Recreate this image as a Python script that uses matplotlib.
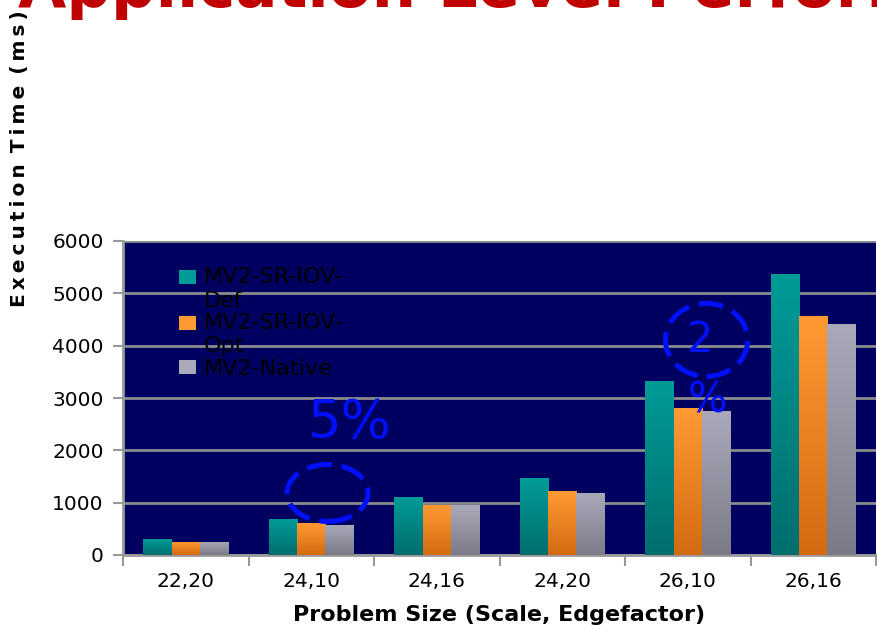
import numpy as np
import matplotlib.pyplot as plt
from matplotlib.patches import Ellipse, Patch, Rectangle
from matplotlib.colors import LinearSegmentedColormap
from matplotlib.legend_handler import HandlerPatch

# data
sizes = ['22,20', '24,10', '24,16', '24,20', '26,10', '26,16']
sriov_def = [300, 690, 1110, 1470, 3325, 5370]
sriov_opt = [250, 610, 955, 1220, 2810, 4570]
native = [250, 575, 955, 1185, 2750, 4415]
series = ['MV2-SR-IOV-\nDef', 'MV2-SR-IOV-\nOpt', 'MV2-Native']
# gradient (top colour, bottom colour) for each series
grads = [('#009c98', '#006e6e'), ('#ff9a33', '#d26a10'), ('#a9a9b9', '#7a7a88')]

fig = plt.figure(figsize=(8.77, 6.30), dpi=100)
ax = fig.add_axes([123/877, 75/630, 753/877, 314/630])
ax.set_facecolor('#000060')

x = np.arange(len(sizes))
w = 0.225
grad = np.linspace(1, 0, 256).reshape(-1, 1)
for i, vals in enumerate([sriov_def, sriov_opt, native]):
    cmap = LinearSegmentedColormap.from_list('g%d' % i, [grads[i][1], grads[i][0]])
    bars = ax.bar(x + (i - 1) * w, vals, w, color='none', edgecolor='none', zorder=3)
    for b in bars:
        x0, y0 = b.get_x(), b.get_y()
        im = ax.imshow(grad, cmap=cmap, vmin=0, vmax=1, aspect='auto',
                       extent=(x0, x0 + b.get_width(), y0, y0 + b.get_height()), zorder=3)
        im.set_clip_path(b)

ax.set_xlim(-0.5, 5.5)
ax.set_ylim(0, 6000)
ax.set_yticks(range(0, 6001, 1000))
ax.yaxis.grid(True, color='#8c8c8c', linewidth=2)
ax.set_axisbelow(True)

ax.set_xticks(np.arange(-0.5, 6, 1))
ax.set_xticklabels([])
ax.set_xticks(x, minor=True)
ax.set_xticklabels(sizes, minor=True, fontsize=14.5)
ax.tick_params(axis='x', which='minor', length=0, pad=12)
ax.tick_params(axis='x', which='major', length=8, width=1.5, color='#999999')
ax.tick_params(axis='y', length=7, width=1.5, color='#999999', labelsize=14.5, pad=7)
for s in ['top', 'right']:
    ax.spines[s].set_visible(False)
for s in ['left', 'bottom']:
    ax.spines[s].set_color('#999999')
    ax.spines[s].set_linewidth(2)

ax.set_xlabel('Problem Size (Scale, Edgefactor)', fontsize=16, fontweight='bold', labelpad=10)


# legend: square sits next to the first line of a wrapped label
def first_line(legend, orig_handle, xdescent, ydescent, width, height, fontsize):
    return Rectangle((-xdescent, -ydescent + 0.55 * fontsize), width, height)


handles = [Patch(facecolor=c[0]) for c in grads]
hmap = {handles[0]: HandlerPatch(patch_func=first_line),
        handles[1]: HandlerPatch(patch_func=first_line)}
ax.legend(handles, series, loc='upper left', bbox_to_anchor=(0.0744, 0.916), frameon=False,
          fontsize=16, labelcolor='black', handlelength=0.77, handleheight=0.6,
          handletextpad=0.36, labelspacing=0.12, borderpad=0, borderaxespad=0,
          handler_map=hmap)

# annotations
ax.add_patch(Ellipse((1.13, 1185), 0.645, 1090, fill=False, edgecolor='#0010ff',
                     linewidth=3.6, linestyle=(0, (5, 2)), zorder=4))
ax.text(1.31, 2520, '5%', color='#0010ff', fontsize=38, ha='center', va='center', zorder=4)
ax.add_patch(Ellipse((4.15, 4110), 0.655, 1395, fill=False, edgecolor='#0010ff',
                     linewidth=3.6, linestyle=(0, (5, 2)), zorder=4))
ax.text(4.10, 4110, '2', color='#0010ff', fontsize=30, ha='center', va='center', zorder=4)
ax.text(4.16, 2960, '%', color='#0010ff', fontsize=30, ha='center', va='center', zorder=4)

ylab = '\u2009'.join('Execution') + ' \u2009' + '\u2009'.join('Time') + ' \u2009' + '\u2009'.join('(ms)')
fig.text(20/877, 1 - 307/630, ylab, rotation=90,
         ha='center', va='bottom', fontsize=14.5, fontweight='bold')
fig.text(18/877, 1 - 7/630, 'Application Level Performance', color='#c00000',
         fontsize=45, fontweight='bold', ha='left', va='baseline')

fig.savefig('out.png', dpi=100)
